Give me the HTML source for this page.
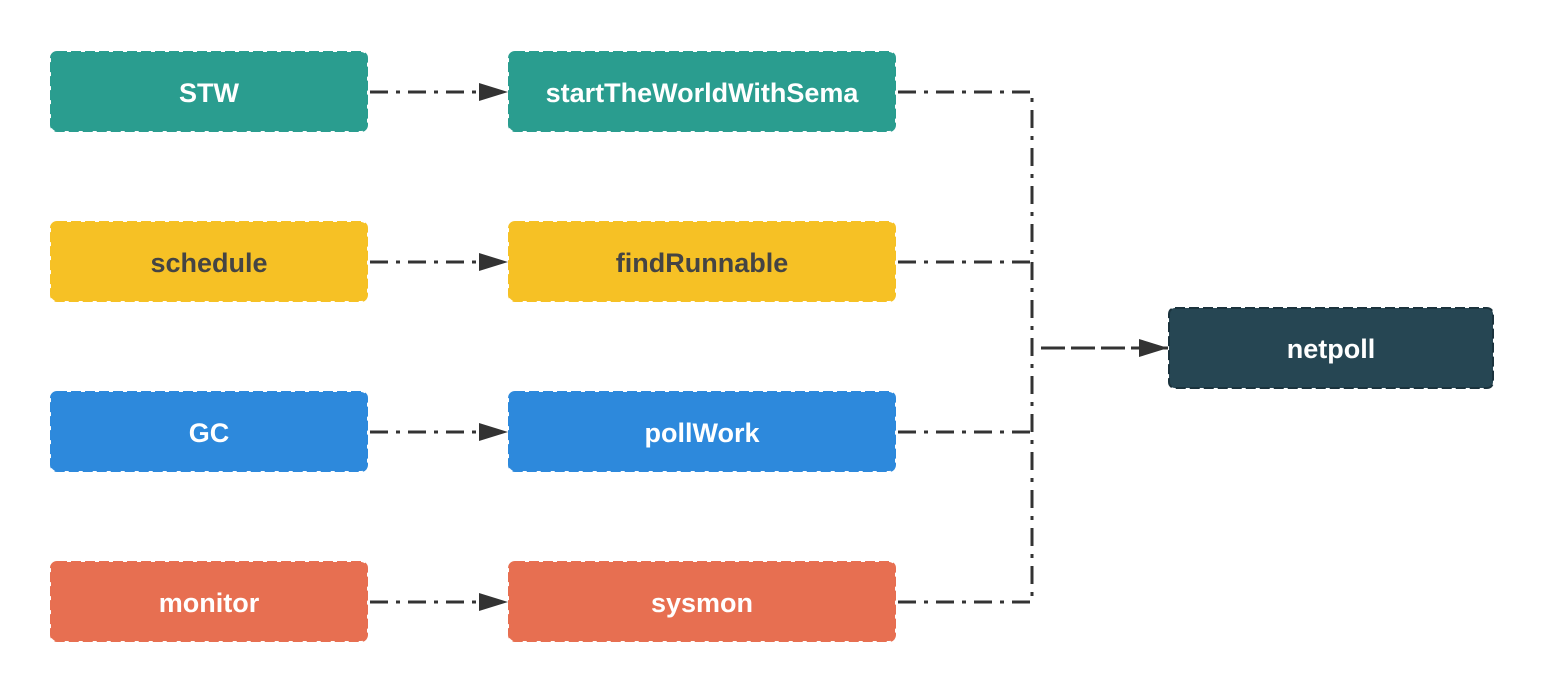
<!DOCTYPE html>
<html><head><meta charset="utf-8"><style>
html,body{margin:0;padding:0;background:#fff;}
svg{display:block}
text{font-family:"Liberation Sans",sans-serif;font-weight:bold;font-size:27px;text-anchor:middle;dominant-baseline:central}
</style></head><body>
<svg width="1544" height="693" viewBox="0 0 1544 693">
<defs>
<marker id="b" viewBox="0 0 30 20" refX="29" refY="10" markerWidth="30" markerHeight="20" orient="auto" markerUnits="userSpaceOnUse"><path d="M0,1 L29,10 L0,19z" fill="#333"/></marker></defs>
<g stroke-width="2" stroke-dasharray="10 4">
<rect x="51" y="52" width="316" height="79" rx="6" fill="#2a9d8f" stroke="#2a9d8f"/>
<rect x="509" y="52" width="386" height="79" rx="6" fill="#2a9d8f" stroke="#2a9d8f"/>
<rect x="51" y="222" width="316" height="79" rx="6" fill="#f6c125" stroke="#f6c125"/>
<rect x="509" y="222" width="386" height="79" rx="6" fill="#f6c125" stroke="#f6c125"/>
<rect x="51" y="392" width="316" height="79" rx="6" fill="#2d89dc" stroke="#2d89dc"/>
<rect x="509" y="392" width="386" height="79" rx="6" fill="#2d89dc" stroke="#2d89dc"/>
<rect x="51" y="562" width="316" height="79" rx="6" fill="#e76f51" stroke="#e76f51"/>
<rect x="509" y="562" width="386" height="79" rx="6" fill="#e76f51" stroke="#e76f51"/>
<rect x="1169" y="308" width="324" height="80" rx="6" fill="#264653" stroke="#1b333d"/>
</g>
<g fill="#fff">
<text x="209" y="93">STW</text><text x="702" y="93">startTheWorldWithSema</text>
<text x="209" y="263" fill="#444">schedule</text><text x="702" y="263" fill="#444">findRunnable</text>
<text x="209" y="433">GC</text><text x="702" y="433">pollWork</text>
<text x="209" y="603">monitor</text><text x="702" y="603">sysmon</text>
<text x="1331" y="349">netpoll</text>
</g>
<g stroke="#333" stroke-width="3" fill="none" stroke-dasharray="18 8 4 8">
<path d="M370 92H508" marker-end="url(#b)"/>
<path d="M370 262H508" marker-end="url(#b)"/>
<path d="M370 432H508" marker-end="url(#b)"/>
<path d="M370 602H508" marker-end="url(#b)"/>
<path d="M898 92H1032V602H898"/>
<path d="M898 262H1032"/>
<path d="M898 432H1032"/>
</g>
<path d="M1041 348H1168" stroke="#333" stroke-width="3" stroke-dasharray="24 6" fill="none" marker-end="url(#b)"/>
</svg>
</body></html>
